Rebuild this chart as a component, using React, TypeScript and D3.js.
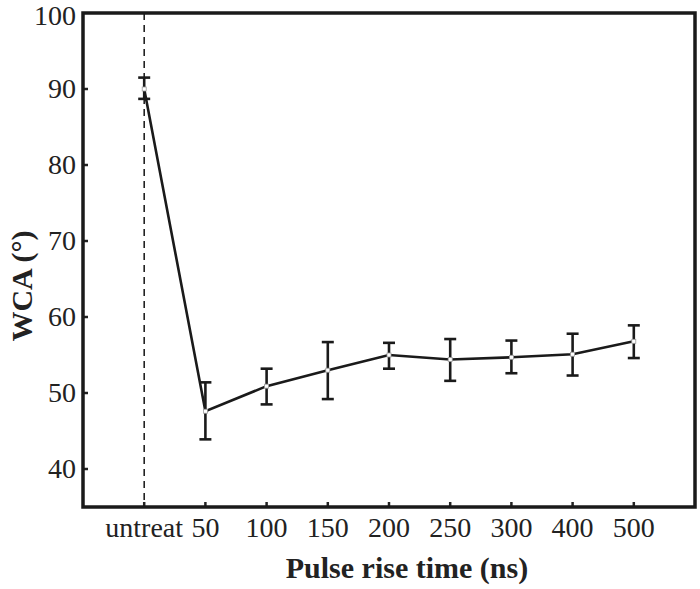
import * as d3 from "d3";

const categories = ["untreat", "50", "100", "150", "200", "250", "300", "400", "500"];
const wca = [90.0, 47.6, 50.9, 53.0, 55.0, 54.4, 54.7, 55.1, 56.8];
const errHigh = [91.5, 51.4, 53.2, 56.7, 56.6, 57.1, 56.9, 57.8, 58.9];
const errLow = [88.7, 43.9, 48.5, 49.2, 53.2, 51.6, 52.6, 52.3, 54.6];
const yTicks = [40, 50, 60, 70, 80, 90, 100];

const width = 700;
const height = 589;
const left = 83;
const right = 695;
const top = 13;
const bottom = 507;

const App = () => {
    const xScale = d3.scaleLinear().domain([-1, categories.length]).range([left, right]);
    const yScale = d3.scaleLinear().domain([35, 100]).range([bottom, top]);

    const lineGenerator = d3
        .line<number>()
        .x((d, i) => xScale(i))
        .y((d) => yScale(d));

    const font = "'Liberation Serif', 'Times New Roman', serif";

    return (
        <svg
            width={width}
            height={height}
            style={{ position: "absolute", left: 0, top: 0, background: "#fff" }}
        >
            {/* dashed marker at the untreated sample */}
            <line
                x1={xScale(0)}
                x2={xScale(0)}
                y1={top}
                y2={bottom}
                stroke="#222"
                strokeWidth={1.6}
                strokeDasharray="7,5"
            />

            {/* y ticks */}
            {yTicks.map((t) => (
                <g key={`y-${t}`}>
                    {t < 100 && (
                        <line
                            x1={left}
                            x2={left + 5}
                            y1={yScale(t)}
                            y2={yScale(t)}
                            stroke="#222"
                            strokeWidth={2.5}
                        />
                    )}
                    <text
                        x={76}
                        y={Math.max(yScale(t) + 9, 25)}
                        textAnchor="end"
                        fontFamily={font}
                        fontSize={28}
                        fill="#222"
                    >
                        {t}
                    </text>
                </g>
            ))}

            {/* x ticks */}
            {categories.map((c, i) => (
                <g key={`x-${c}`}>
                    <line
                        x1={xScale(i)}
                        x2={xScale(i)}
                        y1={bottom}
                        y2={bottom - 5}
                        stroke="#222"
                        strokeWidth={2.5}
                    />
                    <text
                        x={xScale(i)}
                        y={537}
                        textAnchor="middle"
                        fontFamily={font}
                        fontSize={28}
                        fill="#222"
                    >
                        {c}
                    </text>
                </g>
            ))}

            {/* error bars */}
            {wca.map((v, i) => {
                const x = xScale(i);
                return (
                    <g key={`err-${i}`} stroke="#1a1a1a" strokeWidth={2.6}>
                        <line x1={x} x2={x} y1={yScale(errLow[i])} y2={yScale(errHigh[i])} />
                        <line x1={x - 6} x2={x + 6} y1={yScale(errLow[i])} y2={yScale(errLow[i])} />
                        <line x1={x - 6} x2={x + 6} y1={yScale(errHigh[i])} y2={yScale(errHigh[i])} />
                    </g>
                );
            })}

            <path d={lineGenerator(wca) ?? ""} fill="none" stroke="#1a1a1a" strokeWidth={2.6} />

            {wca.map((v, i) => (
                <rect
                    key={`pt-${i}`}
                    x={xScale(i) - 2}
                    y={yScale(v) - 2}
                    width={4}
                    height={4}
                    fill="#fff"
                    stroke="#999"
                    strokeWidth={0.8}
                />
            ))}

            {/* frame */}
            <rect
                x={left}
                y={top}
                width={right - left}
                height={bottom - top}
                fill="none"
                stroke="#1a1a1a"
                strokeWidth={3.5}
            />

            <text
                x={407}
                y={578}
                textAnchor="middle"
                fontFamily={font}
                fontWeight="bold"
                fontSize={30}
                fill="#222"
            >
                Pulse rise time (ns)
            </text>
            <text
                transform={`translate(32, ${286}) rotate(-90)`}
                textAnchor="middle"
                fontFamily={font}
                fontWeight="bold"
                fontSize={30}
                fill="#222"
            >
                WCA (°)
            </text>
        </svg>
    );
};

export default App;
